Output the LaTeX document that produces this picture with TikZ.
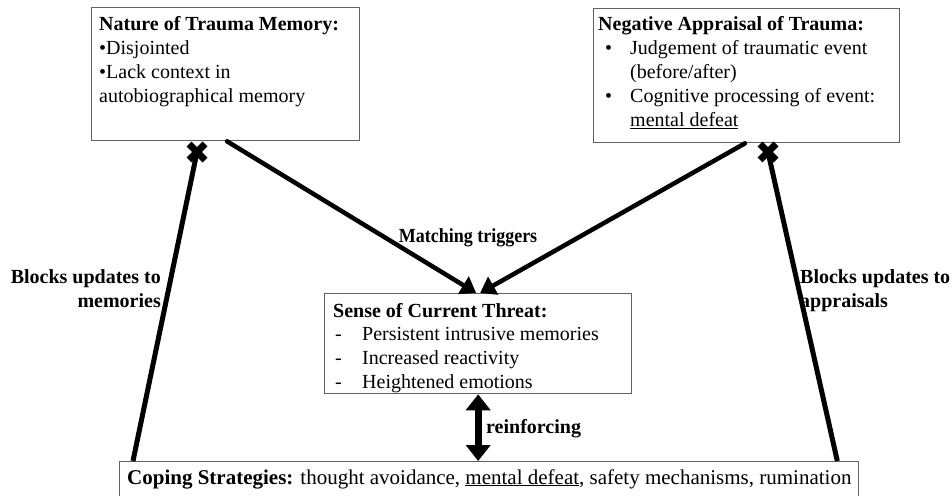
\documentclass[tikz,border=0pt]{standalone}
\usepackage{fontspec}
\usepackage{graphicx}
\setmainfont{Liberation Serif}
\usetikzlibrary{arrows.meta}
\begin{document}
\begin{tikzpicture}[x=1pt,y=-1pt,
  box/.style={draw=black!62, line width=1.3pt, inner sep=0pt, anchor=north west},
  body/.style={inner sep=0pt, anchor=base west, font=\fontsize{20}{23.8}\selectfont},
  lbl/.style={inner sep=0pt, font=\fontsize{20}{24}\selectfont\bfseries},
  link/.style={line width=4.5pt, line cap=round},
  tip/.style={-{Triangle[width=20pt,length=15pt]}},
  block/.style={line width=5pt},
  crossmark/.style={inner sep=0pt, minimum size=20pt},
]
\useasboundingbox (0,0) rectangle (952,495);
\clip (0,0) rectangle (952,495);

% ---- boxes ----
\node[box, minimum width=268pt, minimum height=133pt] (memory) at (91,7) {};
\node[box, minimum width=306pt, minimum height=134pt] (appraisal) at (593,8) {};
\node[box, minimum width=307pt, minimum height=100pt] (threat) at (324,293) {};
\node[box, minimum width=739pt, minimum height=60pt] (coping) at (119,461) {};

% ---- box texts ----
\node[body] (memorytext) at (99,31)
  {\begin{tabular}[t]{@{}l@{}}
   \textbf{Nature of Trauma Memory:}\\
   •Disjointed\\
   •Lack context in\\
   autobiographical memory
   \end{tabular}};

\node[body] (appraisaltext) at (598,31)
  {\begin{tabular}[t]{@{\hspace{7pt}}p{25pt}@{}l@{}}
   \multicolumn{2}{@{}l@{}}{\textbf{Negative Appraisal of Trauma:}}\\
   • & Judgement of traumatic event\\
     & (before/after)\\
   • & Cognitive processing of event:\\
     & \underline{mental defeat}
   \end{tabular}};

\node[body] (threattext) at (333,317)
  {\begin{tabular}[t]{@{\hspace{2pt}}p{27pt}@{}l@{}}
   \multicolumn{2}{@{}l@{}}{\textbf{Sense of Current Threat:}}\\
   - & Persistent intrusive memories\\
   - & Increased reactivity\\
   - & Heightened emotions
   \end{tabular}};

\node[body, font=\fontsize{21}{24}\selectfont] (copingtext) at (127,484)
  {\textbf{Coping Strategies:} thought avoidance, \underline{mental defeat}, safety mechanisms, rumination};

% ---- connector end points on the box borders ----
\coordinate (memout) at ([xshift=136pt]memory.south west);
\coordinate (appout) at ([xshift=152pt]appraisal.south west);
\coordinate (thrinL) at ([xshift=-2pt]threat.north);
\coordinate (thrinR) at ([xshift=2pt]threat.north);
\coordinate (copL) at ([xshift=14pt]coping.north west);
\coordinate (copR) at ([xshift=-22pt]coping.north east);

% ---- matching triggers ----
\draw[link, tip] (memout) -- (thrinL);
\draw[link, tip] (appout) -- (thrinR);
\node[lbl, anchor=base] (matchlbl) at (468,242) {\scalebox{0.9}[1]{Matching triggers}};

% ---- blocked updates ----
\node[crossmark] (xmem) at (197,152) {};
\node[crossmark] (xapp) at (768,152) {};
\draw[block] (copL) -- (xmem.center);
\draw[block] (copR) -- (xapp.center);
\foreach \c in {xmem, xapp} {
  \draw[line width=7pt] ([shift={(-8,-8)}]\c.center) -- ([shift={(8,8)}]\c.center);
  \draw[line width=7pt] ([shift={(-8,8)}]\c.center) -- ([shift={(8,-8)}]\c.center);
}
\node[lbl, anchor=base east] (blkmem) at (161,283)
  {\begin{tabular}[t]{@{}r@{}}Blocks updates to\\memories\end{tabular}};
\node[lbl, anchor=base west] (blkapp) at (800,283)
  {\begin{tabular}[t]{@{}l@{}}Blocks updates to\\appraisals\end{tabular}};

% ---- reinforcing loop ----
\draw[line width=7pt, {Triangle[width=24pt,length=16pt]}-{Triangle[width=24pt,length=16pt]}]
  (threat.south) -- (threat.south |- coping.north);
\node[lbl, anchor=base west] (reinf) at (486,433) {reinforcing};
\end{tikzpicture}
\end{document}
